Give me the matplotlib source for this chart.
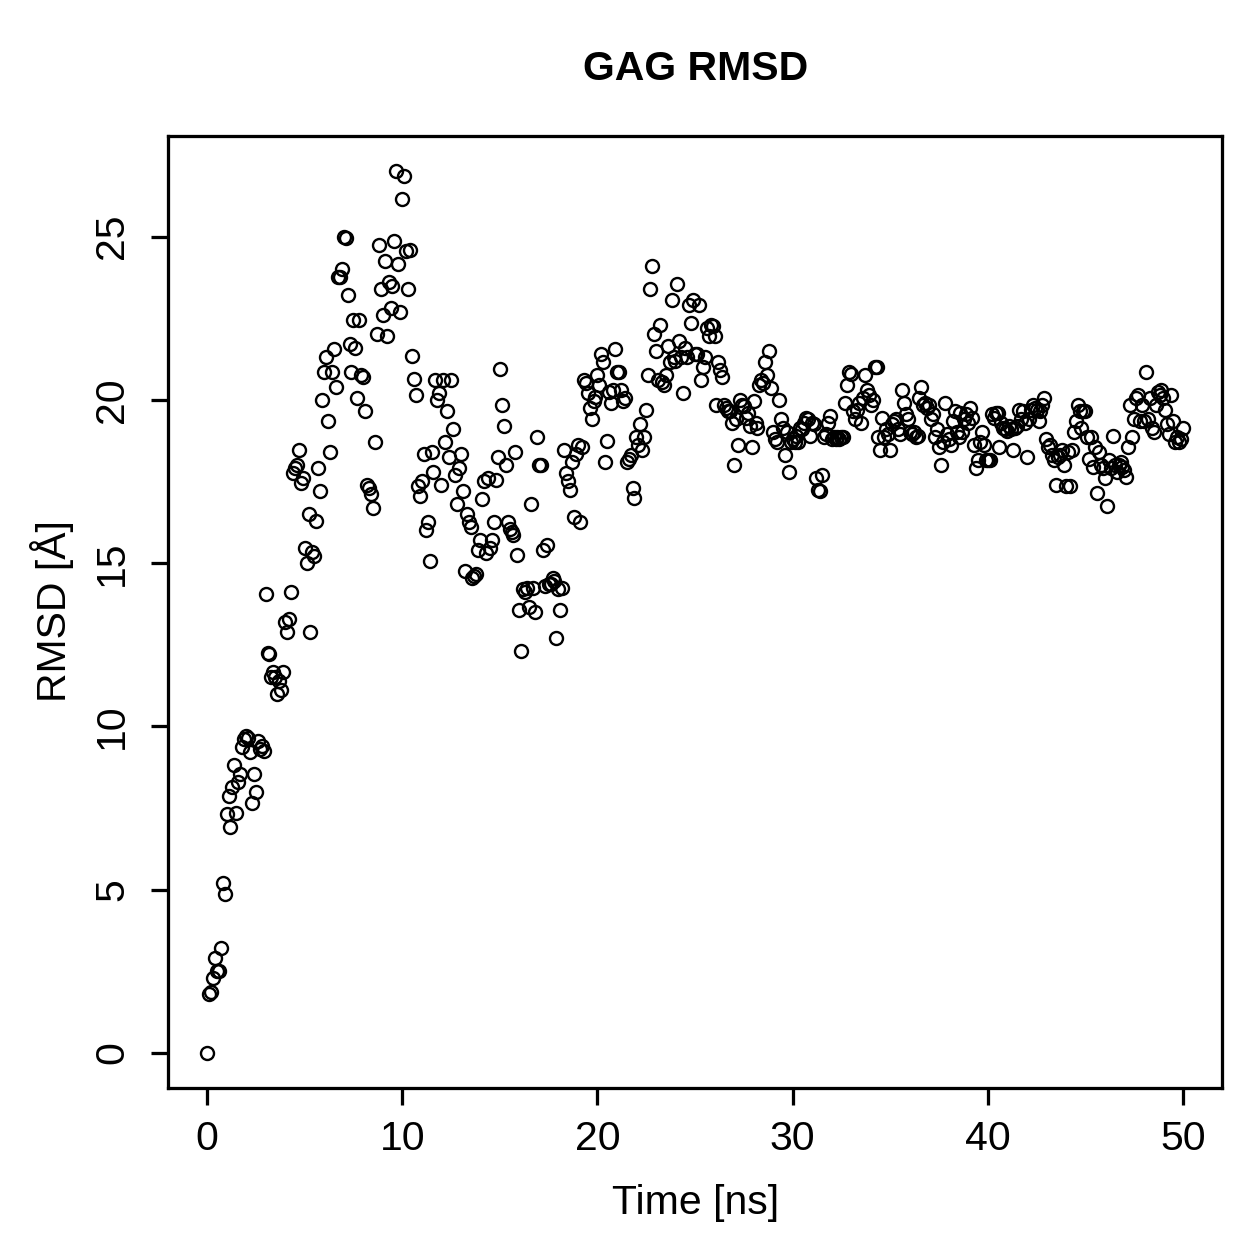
import numpy as np
import matplotlib.pyplot as plt

# RMSD values, roughly one row per ns (0.1 ns frames)
rmsd_0_9 = [
    0.0, 1.8, 1.85, 2.3, 2.9, 2.5, 2.5, 3.2, 5.2, 4.85,
    7.3, 7.85, 6.9, 8.15, 8.8, 7.35, 8.3, 8.55, 9.35, 9.6,
    9.7, 9.65, 9.2, 7.65, 8.55, 8.0, 9.55, 9.3, 9.4, 9.25,
    14.05, 12.25, 12.2, 11.5, 11.65, 11.5, 11.0, 11.4, 11.1, 11.65,
    13.2, 12.9, 13.3, 14.1, 17.75, 17.9, 18.0, 18.45, 17.45, 17.6,
    15.45, 15.0, 16.5, 12.9, 15.35, 15.2, 16.3, 17.9, 17.2, 20.0,
    20.85, 21.3, 19.35, 18.4, 20.85, 21.55, 20.4, 23.75, 23.75, 24.0,
    25.0, 24.95, 23.2, 21.7, 20.85, 22.45, 21.6, 20.05, 22.45, 20.75,
    20.7, 19.65, 17.4, 17.3, 17.1, 16.7, 18.7, 22.0, 24.75, 23.4, 22.6,
    24.25, 21.95, 23.6, 22.8, 23.5, 24.85, 27.0, 24.15, 22.7, 26.15,
]
rmsd_10_19 = [
    26.85, 24.55, 23.4, 24.6, 21.35, 20.65, 20.15, 17.35, 17.05, 17.5,
    18.35, 16.0, 16.25, 15.05, 18.4, 17.8, 20.6, 20.0, 20.2, 17.4,
    20.6, 18.7, 19.65, 18.25, 20.6, 19.1, 17.7, 16.8, 17.9, 18.35,
    17.2, 14.75, 16.5, 16.25, 16.1, 14.55, 14.6, 14.65, 15.4, 15.7, 16.95,
    17.5, 15.3, 17.6, 15.45, 15.7, 16.25, 17.55, 18.25, 20.95, 19.85,
    19.2, 18.0, 16.25, 16.05, 15.95, 15.85, 18.4, 15.25, 13.55, 12.3,
    14.2, 14.1, 14.25, 13.65, 16.8, 14.25, 13.5, 18.85, 18.0, 18.0,
    15.4, 14.3, 15.55, 14.35, 14.35, 14.55, 14.45, 12.7, 14.2, 13.55,
    14.25, 18.45, 17.75, 17.5, 17.25, 18.1, 16.4, 18.35, 18.6, 16.25, 18.55,
    20.6, 20.5, 20.2, 19.75, 19.4, 19.95, 20.1, 20.75, 20.45, 21.4,
]
rmsd_20_29 = [
    21.15, 18.1, 18.75, 20.25, 19.9, 20.3, 21.55, 20.85, 20.85, 20.3,
    19.95, 20.05, 18.1, 18.2, 18.3, 17.3, 17.0, 18.85, 18.6, 19.25,
    18.45, 18.85, 19.7, 20.75, 23.4, 24.1, 22.0, 21.5, 20.6, 22.3,
    20.55, 20.45, 20.75, 21.65, 21.15, 23.05, 21.3, 21.2, 23.55, 21.8, 21.3,
    20.2, 21.6, 21.3, 22.9, 22.35, 23.05, 21.4, 21.4, 22.9, 20.6,
    21.0, 21.3, 22.2, 21.95, 22.3, 22.25, 21.95, 19.85, 21.15, 20.9,
    20.7, 19.85, 19.75, 19.65, 19.65, 19.3, 18.0, 19.4, 18.6, 20.0,
    19.85, 19.8, 19.45, 19.6, 19.2, 18.55, 19.95, 19.3, 19.15, 20.45, 20.6,
    20.5, 21.15, 20.75, 21.5, 20.35, 19.0, 18.8, 18.7, 20.0, 19.4,
    19.15, 18.3, 19.0, 17.8, 18.7, 18.8, 18.7, 18.9, 18.7, 19.15,
]
rmsd_30_39 = [
    19.1, 19.3, 19.45, 19.4, 18.9, 19.3, 19.25, 17.6, 17.25, 17.2,
    17.7, 18.85, 18.95, 19.3, 19.5, 18.8, 18.85, 18.8, 18.85, 18.8, 18.85,
    18.85, 19.9, 20.45, 20.85, 20.8, 19.65, 19.4, 19.7, 19.9, 19.3,
    20.05, 20.75, 20.3, 20.15, 19.85, 20.0, 21.0, 21.0, 18.85, 18.45,
    19.45, 18.85, 19.1, 18.95, 18.45, 19.25, 19.35, 19.4, 19.1, 18.95,
    20.3, 19.9, 19.55, 19.4, 19.0, 18.95, 19.0, 18.85, 18.9, 20.05,
    20.4, 19.85, 19.9, 19.75, 19.85, 19.4, 19.55, 18.85, 19.1, 18.55, 18.0,
    18.7, 19.9, 18.95, 18.8, 18.6, 19.35, 19.65, 19.0, 18.85, 19.6,
    19.0, 19.4, 19.55, 19.3, 19.75, 19.45, 18.6, 17.9, 18.15, 18.7,
    19.0, 18.6, 18.15, 18.15, 18.15, 19.55, 19.45, 19.6, 19.6, 18.55,
]
rmsd_40_50 = [
    19.3, 19.15, 19.1, 19.05, 19.2, 19.1, 18.45, 19.15, 19.2, 19.7, 19.4,
    19.65, 19.3, 18.25, 19.4, 19.7, 19.85, 19.75, 19.7, 19.35, 19.65,
    19.85, 20.05, 18.8, 18.55, 18.6, 18.3, 18.15, 17.4, 18.25, 18.3,
    18.45, 18.0, 17.35, 18.4, 17.35, 18.45, 19.0, 19.35, 19.85, 19.65,
    19.15, 19.65, 19.65, 18.85, 18.2, 18.85, 17.95, 18.55, 17.15, 18.4,
    18.0, 17.9, 17.6, 16.75, 18.15, 17.9, 18.9, 18.0, 17.8, 18.0, 18.1,
    17.95, 17.85, 17.65, 18.55, 19.85, 18.85, 19.4, 20.05, 20.15, 19.35,
    19.85, 19.35, 20.85, 19.4, 20.05, 19.15, 19.0, 19.85, 20.25, 20.15,
    20.3, 20.05, 19.7, 19.25, 18.95, 20.15, 19.35, 18.7, 18.85, 18.7,
    18.8, 19.15,
]

rmsd = np.array(rmsd_0_9 + rmsd_10_19 + rmsd_20_29 + rmsd_30_39 + rmsd_40_50)
time_ns = np.arange(len(rmsd)) * 0.1

x_ticks = [0, 10, 20, 30, 40, 50]
y_ticks = [0, 5, 10, 15, 20, 25]

plt.rcParams['font.family'] = ['Liberation Sans', 'DejaVu Sans']

fig = plt.figure(figsize=(1259 / 180, 1259 / 180), dpi=180)
ax = fig.add_axes([168 / 1259, 1 - 1088 / 1259, 1054 / 1259, 952 / 1259])

ax.plot(time_ns, rmsd, linestyle='none', marker='o', markersize=5.2,
        markerfacecolor='none', markeredgecolor='black', markeredgewidth=0.95)

# R style axis extension: 4% of the data range on each side
xr = time_ns.max() - time_ns.min()
yr = rmsd.max() - rmsd.min()
ax.set_xlim(time_ns.min() - 0.04 * xr, time_ns.max() + 0.04 * xr)
ax.set_ylim(rmsd.min() - 0.04 * yr, rmsd.max() + 0.04 * yr)

ax.set_xticks(x_ticks)
ax.set_yticks(y_ticks)
ax.tick_params(length=6.8, width=1.3, labelsize=16.4, pad=6)
ax.tick_params(axis='y', pad=8)
for lab in ax.get_yticklabels():
    lab.set_rotation(90)
    lab.set_va('center')
for sp in ax.spines.values():
    sp.set_linewidth(1.3)

fig.text(696 / 1259, 1 - 69 / 1259, 'GAG RMSD', ha='center', va='center',
         fontsize=16.4, fontweight='bold')
fig.text(696 / 1259, 1 - 1203 / 1259, 'Time [ns]', ha='center', va='center',
         fontsize=16.4)
fig.text(52 / 1259, 1 - 611 / 1259, 'RMSD [Å]', ha='center', va='center',
         rotation=90, fontsize=16.4)

fig.savefig('out.png', dpi=180)
